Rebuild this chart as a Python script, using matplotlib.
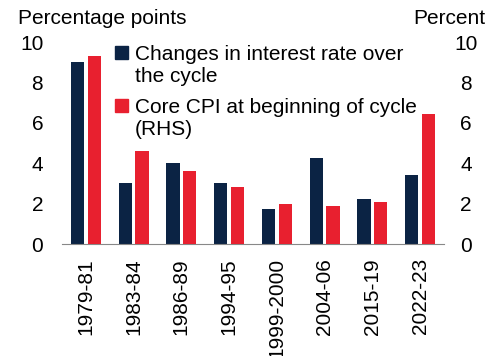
import numpy as np
import matplotlib.pyplot as plt
from matplotlib.patches import Rectangle

plt.rcParams['font.family'] = ['Liberation Sans', 'DejaVu Sans']

cycles = ['1979-81', '1983-84', '1986-89', '1994-95', '1999-2000', '2004-06', '2015-19', '2022-23']
rate_change = [9.0, 3.0, 4.0, 3.0, 1.75, 4.25, 2.25, 3.4]
core_cpi = [9.3, 4.6, 3.6, 2.8, 2.0, 1.9, 2.1, 6.45]
series_names = ['Changes in interest rate over\nthe cycle', 'Core CPI at beginning of cycle\n(RHS)']

navy = '#0b2344'
red = '#e8202f'
fs = 15
W, H = 491, 356

fig = plt.figure(figsize=(W / 100, H / 100), dpi=100)
ax = fig.add_axes([62 / W, 1 - 244 / H, 382 / W, 202 / H])
ax2 = ax.twinx()

x = np.arange(len(cycles))
w = 0.28
ax.bar(x - 0.175, rate_change, w, color=navy)
ax2.bar(x + 0.175, core_cpi, w, color=red)

for a in (ax, ax2):
    a.set_ylim(0, 10)
    a.set_yticks(range(0, 11, 2))
    for s in ('top', 'left', 'right'):
        a.spines[s].set_visible(False)
ax.spines['bottom'].set_color('#888888')
ax2.spines['bottom'].set_visible(False)
ax.tick_params(axis='y', length=0, labelsize=fs, pad=13.5)
ax2.tick_params(axis='y', length=0, labelsize=fs, pad=16)
for t in ax2.get_yticklabels():
    t.set_horizontalalignment('center')

ax.set_xlim(-0.5, len(cycles) - 0.5)
ax.set_xticks(x)
ax.set_xticklabels(cycles, rotation=90, fontsize=fs)
ax.tick_params(axis='x', length=0, pad=10)

fig.text(18 / W, 1 - 24 / H, 'Percentage points', fontsize=fs, va='baseline', ha='left')
fig.text(485 / W, 1 - 24 / H, 'Percent', fontsize=fs, va='baseline', ha='right')

# legend: square key next to the first line of each label, one text per line
for i, (name, col) in enumerate(zip(series_names, [navy, red])):
    base = 60 + 53 * i
    fig.patches.append(Rectangle((115 / W, 1 - (base - 1) / H), 13 / W, 13 / H,
                                 transform=fig.transFigure, color=col))
    for k, line in enumerate(name.split('\n')):
        fig.text(135 / W, 1 - (base + 22 * k) / H, line, fontsize=fs, va='baseline', ha='left')

fig.savefig('out.png', dpi=100)
